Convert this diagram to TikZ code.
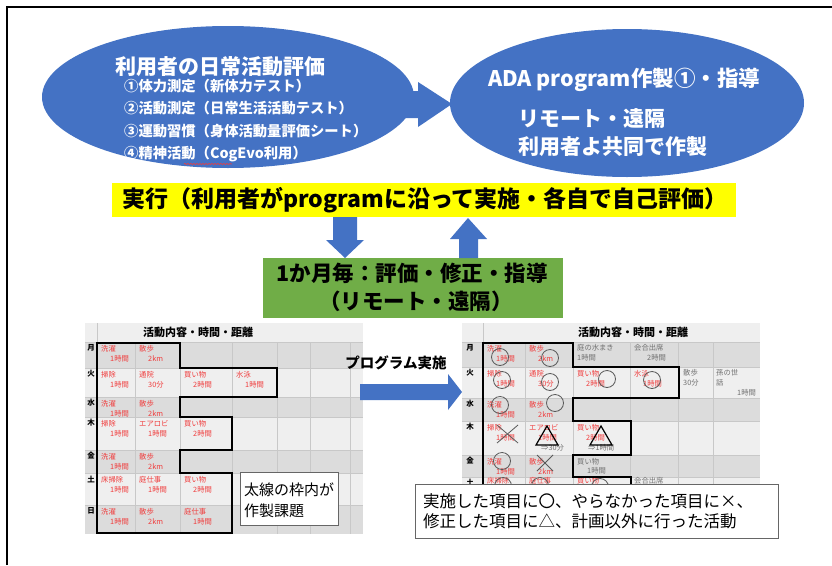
\documentclass[tikz,border=0pt]{standalone}
\usepackage{fontspec}
\setmainfont{Noto Sans CJK JP}
\usetikzlibrary{shapes.geometric,decorations.pathmorphing}
\definecolor{blu}{HTML}{4472C4}
\definecolor{yel}{HTML}{FFFF00}
\definecolor{grn}{HTML}{70AD47}
\definecolor{rowA}{HTML}{DCDCDC}
\definecolor{rowB}{HTML}{EFEFEF}
\definecolor{gridc}{HTML}{C8C8C8}
\definecolor{redt}{HTML}{F03C3C}
\definecolor{grayt}{HTML}{707070}
\tikzset{
  wt/.style={text=white, inner sep=0pt},
  big/.style={font=\bfseries\fontsize{21}{24}\selectfont},
  sub/.style={font=\bfseries\fontsize{14.3}{16}\selectfont, anchor=west, text=white, inner sep=0pt},
  rt/.style={text=redt, font=\fontsize{7.3}{8}\selectfont, inner sep=0pt, anchor=west},
  gt/.style={text=grayt, font=\fontsize{7.3}{8}\selectfont, inner sep=0pt, anchor=west},
  dayl/.style={font=\bfseries\fontsize{7.5}{8}\selectfont, inner sep=0pt},
  hdr/.style={font=\bfseries\fontsize{11}{12}\selectfont, inner sep=0pt},
  thick frame/.style={line width=2.6pt, line join=miter},
  mk/.style={draw=black!65, line width=0.8pt},
  capbox/.style={draw=black!60, fill=white, line width=0.8pt},
}
\begin{document}
\begin{tikzpicture}[x=1pt,y=-1pt]
\useasboundingbox (0,0) rectangle (832,565);
\fill[white] (0,0) rectangle (832,565);
% frame
\draw[line width=1.2pt] (7,565) -- (7,7) -- (832,7);

% arrow between ellipses
\fill[blu] (380,91) -- (418,91) -- (418,82) -- (452,104) -- (418,127) -- (418,118) -- (380,118) -- cycle;
% ellipses
\node[ellipse, fill=blu, minimum width=372, minimum height=142, inner sep=0pt] (evalE) at (228,97) {};
\node[ellipse, fill=blu, minimum width=354, minimum height=148, inner sep=0pt] (adaE) at (627,103) {};

\node[wt, big] (t1) at (220,67) {利用者の日常活動評価};
\node[sub] (l1) at (124,86) {①体力測定（新体力テスト）};
\node[sub] (l2) at (124,108) {②活動測定（日常生活活動テスト）};
\node[sub] (l3) at (124,131) {③運動習慣（身体活動量評価シート）};
\node[sub] (l4) at (124,154) {④精神活動（CogEvo利用）};
\draw[redt, line width=0.6pt, decorate, decoration={snake, amplitude=0.6pt, segment length=3pt}] (184,164) -- (232,164);

\node[wt, big, font=\bfseries\fontsize{21.5}{24}\selectfont] (r1) at (624,80) {ADA program作製①・指導};
\node[wt, big, anchor=west] (r2) at (518,119) {リモート・遠隔};
\node[wt, big, anchor=west] (r3) at (518,147) {利用者よ共同で作製};

% yellow bar
\node[fill=yel, minimum width=624, minimum height=34, inner sep=0pt] (exec) at (424,200) {};
\node[font=\bfseries\fontsize{23}{26}\selectfont, inner sep=0pt, anchor=west] (execT) at (122,200) {実行（利用者がprogramに沿って実施・各自で自己評価）};

% green box
\node[fill=grn, minimum width=300, minimum height=60, inner sep=0pt] (month) at (413,288) {};
\node[font=\bfseries\fontsize{21.5}{24}\selectfont, inner sep=0pt] (m1) at (412,273) {1か月毎：評価・修正・指導};
\node[font=\bfseries\fontsize{21.5}{24}\selectfont, inner sep=0pt] (m2) at (416,301) {（リモート・遠隔）};

% up/down arrows
\fill[blu] (333,217) -- (357,217) -- (357,240) -- (364,240) -- (345,258) -- (326,240) -- (333,240) -- cycle;
\fill[blu] (459,258) -- (478,258) -- (478,239) -- (487,239) -- (468,218) -- (450,239) -- (459,239) -- cycle;

% ---------- left table ----------
\fill[rowB] (85,323) rectangle (363,342);
\foreach \ya/\yb/\c in {342/368/rowA,368/397/rowB,397/417/rowA,417/450/rowB,450/473/rowA,473/505/rowB,505/534/rowA}
  \fill[\c] (85,\ya) rectangle (363,\yb);
\foreach \x in {135,180,232,277,310,350}
  \draw[gridc, line width=0.6pt] (\x,342) -- (\x,534);
\draw[gridc, line width=0.6pt] (97,323) -- (97,534);
\foreach \y in {342,368,397,417,450,473,505}
  \draw[gridc, line width=0.6pt] (85,\y) -- (363,\y);
\node[hdr] (hL) at (198,332) {活動内容・時間・距離};
\foreach \d/\y in {月/348,火/374,水/403,木/423,金/456,土/479,日/511}
  \node[dayl] at (91,\y) {\d};
\foreach \x/\y/\n/\v in {97/342/洗濯/1時間,135/342/散歩/2km,
  97/368/掃除/1時間,135/368/通院/30分,180/368/買い物/2時間,232/368/水泳/1時間,
  97/397/洗濯/1時間,135/397/散歩/2km,
  97/417/掃除/1時間,135/417/エアロビ/1時間,180/417/買い物/2時間,
  97/450/洗濯/1時間,135/450/散歩/2km,
  97/473/床掃除/1時間,135/473/庭仕事/1時間,180/473/買い物/2時間,
  97/505/洗濯/1時間,135/505/散歩/2km,180/505/庭仕事/1時間}
{
  \node[rt] at (\x+4,\y+7) {\n};
  \node[rt] at (\x+13,\y+17) {\v};
}
\draw[thick frame] (97,343) -- (180,343) -- (180,368) -- (277,368) -- (277,397) -- (180,397) -- (180,417)
  -- (232,417) -- (232,450) -- (180,450) -- (180,473) -- (232,473) -- (232,533) -- (97,533) -- cycle;
\node[capbox, minimum width=98, minimum height=53, inner sep=0pt] (noteL) at (289,499) {};
\node[font=\fontsize{15}{21}\selectfont, align=left, anchor=west, inner sep=0pt] (noteLt) at (244,500) {太線の枠内が\\作製課題};

% middle arrow
\node[font=\bfseries\fontsize{14.5}{16}\selectfont, inner sep=0pt] (prog) at (396,363) {プログラム実施};
\fill[blu] (360,384) -- (448,384) -- (448,374) -- (462,392) -- (448,410) -- (448,400) -- (360,400) -- cycle;

% ---------- right table ----------
\fill[rowB] (462,323) rectangle (760,342);
\foreach \ya/\yb/\c in {342/367/rowA,367/398/rowB,398/421/rowA,421/455/rowB,455/477/rowA,477/505/rowB,505/534/rowA}
  \fill[\c] (462,\ya) rectangle (760,\yb);
\foreach \x in {525,573,630,678,713}
  \draw[gridc, line width=0.6pt] (\x,342) -- (\x,534);
\draw[gridc, line width=0.6pt] (483,323) -- (483,534);
\foreach \y in {342,367,398,421,455,477,505}
  \draw[gridc, line width=0.6pt] (462,\y) -- (760,\y);
\node[hdr] (hR) at (633,332) {活動内容・時間・距離};
\foreach \d/\y in {月/348,火/373,水/404,木/427,金/461,土/482}
  \node[dayl] at (470,\y) {\d};
\foreach \x/\y/\n/\v in {483/342/洗濯/1時間,525/342/散歩/2km,
  483/367/掃除/1時間,525/367/通院/30分,573/367/買い物/2時間,630/367/水泳/1時間,
  483/398/洗濯/1時間,525/398/散歩/2km,
  483/421/掃除/1時間,525/421/エアロビ/1時間,573/421/買い物/2時間,
  483/455/洗濯/1時間,525/455/散歩/2km}
{
  \node[rt] at (\x+4,\y+7) {\n};
  \node[rt] at (\x+13,\y+17) {\v};
}
\foreach \x/\n in {483/床掃除,525/庭仕事,573/買い物}
  \node[rt] at (\x+4,481) {\n};
\node[gt] at (577,348) {庭の水まき};
\node[gt] at (577,358) {1時間};
\node[gt] at (634,348) {会合出席};
\node[gt] at (647,358) {2時間};
\node[gt] at (683,373) {散歩};
\node[gt] at (683,383) {30分};
\node[gt] at (716,373) {孫の世};
\node[gt] at (716,383) {話};
\node[gt] at (737,393) {1時間};
\node[gt] at (577,462) {買い物};
\node[gt] at (587,471) {1時間};
\node[gt] at (634,481) {会合出席};
\node[gt] at (541,448) {⇒30分};
\node[gt] at (588,448) {⇒1時間};
% marks
\foreach \cx/\cy in {500/357,550/358,502/380,550/382,607/379,652/380,500/405,555/403,502/461,503/486,540/486,600/487}
  \draw[mk] (\cx,\cy) circle (8.5);
\draw[mk] (497,425) -- (518,443) (518,425) -- (497,443);
\draw[mk] (537,455) -- (553,471) (553,455) -- (537,471);
\draw[black, line width=1.2pt] (547,426) -- (558,445) -- (536,445) -- cycle;
\draw[black, line width=1.2pt] (601,426) -- (612,445) -- (590,445) -- cycle;
\draw[thick frame] (483,343) -- (573,343) -- (573,367) -- (679,367) -- (679,398) -- (573,398) -- (573,421)
  -- (631,421) -- (631,455) -- (573,455) -- (573,477) -- (631,477) -- (631,533) -- (483,533) -- cycle;
\node[capbox, minimum width=363, minimum height=54, inner sep=0pt] (noteR) at (597,511) {};
\node[font=\fontsize{16.5}{20}\selectfont, align=left, anchor=west, inner sep=0pt] (noteRt) at (423,511) {実施した項目に〇、やらなかった項目に×、\\修正した項目に△、計画以外に行った活動};
\end{tikzpicture}
\end{document}
